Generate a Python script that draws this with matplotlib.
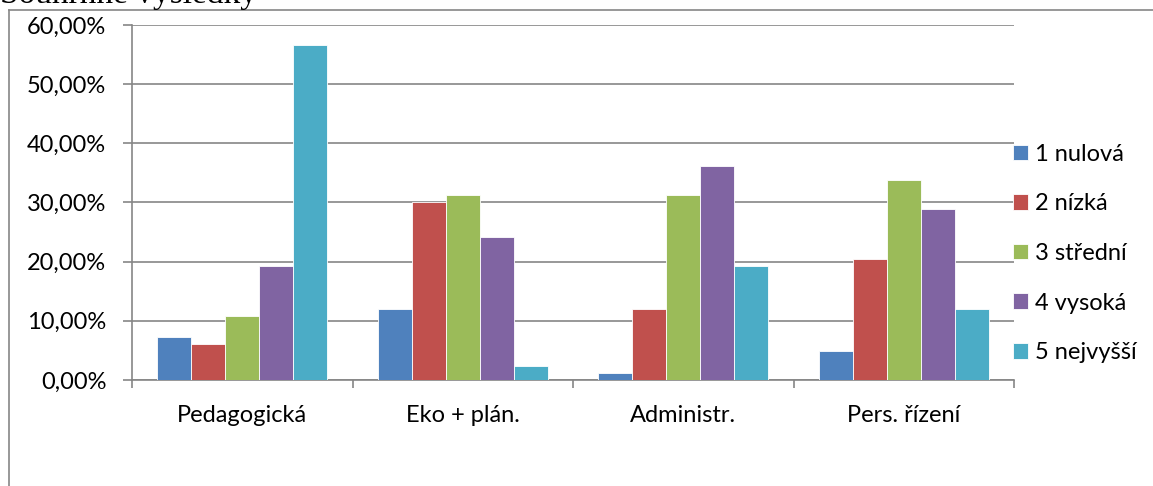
import numpy as np
import matplotlib.pyplot as plt
from matplotlib.lines import Line2D
from matplotlib.ticker import FuncFormatter

kategorie = ['Pedagogická', 'Eko + plán.', 'Administr.', 'Pers. řízení']
urovne = ['1 nulová', '2 nízká', '3 střední', '4 vysoká', '5 nejvyšší']
barvy = ['#4F81BD', '#C0504D', '#9BBB59', '#8064A2', '#4BACC6']

# hodnoty v % po kategoriich (radky = uroven)
nulova = [7.23, 12.05, 1.20, 4.82]
nizka = [6.02, 30.12, 12.05, 20.48]
stredni = [10.84, 31.33, 31.33, 33.73]
vysoka = [19.28, 24.10, 36.14, 28.92]
nejvyssi = [56.63, 2.41, 19.28, 12.05]
hodnoty = [nulova, nizka, stredni, vysoka, nejvyssi]

plt.rcParams['font.family'] = ['Lato', 'DejaVu Sans']
seda = '#868686'
fs = 17

fig = plt.figure(figsize=(11.53, 4.86), dpi=100)
ax = fig.add_axes([0.1145, 0.2181, 0.765, 0.7305])

x = np.arange(len(kategorie))
w = 1 / 6.5
for i, (lab, val) in enumerate(zip(urovne, hodnoty)):
    ax.bar(x + (i - 2) * w, val, w, color=barvy[i], edgecolor='white',
           linewidth=0.6, label=lab, zorder=3)

ax.set_xlim(-0.5, 3.5)
ax.set_ylim(0, 60)
ax.set_yticks(np.arange(0, 61, 10))
ax.yaxis.set_major_formatter(FuncFormatter(lambda v, p: f'{v:.2f}%'.replace('.', ',')))
ax.grid(axis='y', color=seda, linewidth=1.2, zorder=0)
ax.set_axisbelow(True)

ax.set_xticks(x)
ax.set_xticklabels(kategorie)
ax.set_xticks(np.arange(-0.5, 4, 1), minor=True)
ax.tick_params(axis='x', which='major', length=0, pad=18, labelsize=fs)
ax.tick_params(axis='x', which='minor', length=6, width=1.2, color=seda)
ax.tick_params(axis='y', length=6.5, width=1.2, color=seda, pad=12, labelsize=fs)

for s in ['top', 'right']:
    ax.spines[s].set_visible(False)
for s in ['left', 'bottom']:
    ax.spines[s].set_color(seda)
    ax.spines[s].set_linewidth(1.2)

fig.legend(loc='center left', bbox_to_anchor=(0.8786, 0.4785), frameon=False,
           fontsize=fs, handlelength=0.63, handleheight=0.63,
           handletextpad=0.3, labelspacing=1.21, borderpad=0, borderaxespad=0)

# ramecek grafu
fig.add_artist(Line2D([9 / 1153, 9 / 1153], [0, 1 - 10 / 486], color=seda, linewidth=1.2))
fig.add_artist(Line2D([9 / 1153, 1], [1 - 10 / 486, 1 - 10 / 486], color=seda, linewidth=1.2))

fig.text(0.0, 1 + 6 / 486, 'Souhrnné výsledky', family='Liberation Serif',
         fontsize=24, va='center', ha='left')

fig.savefig('out.png', dpi=100)
